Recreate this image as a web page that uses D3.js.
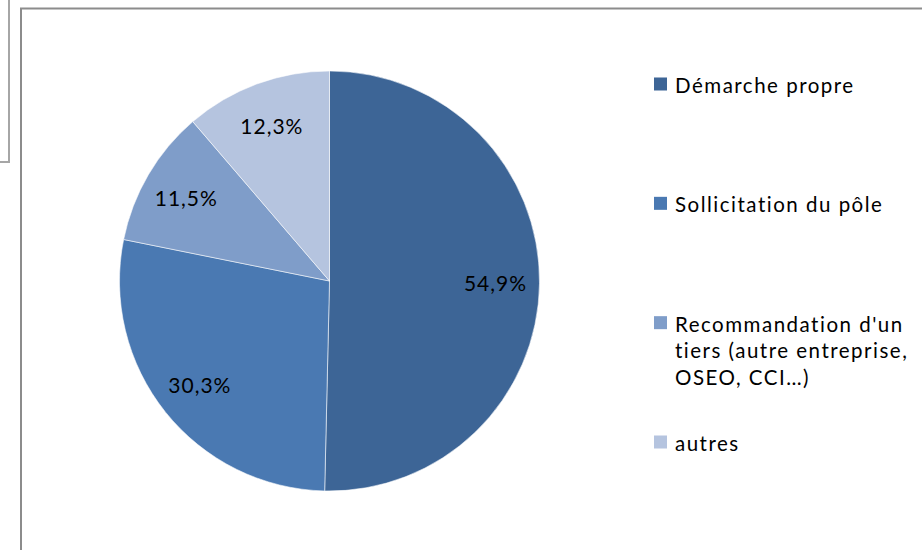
<!DOCTYPE html>
<html>
<head>
<meta charset="utf-8">
<script src="https://cdn.jsdelivr.net/npm/d3@7"></script>
<style>
  html, body { margin: 0; padding: 0; background: #fff; }
  svg { display: block; }
  text { font-family: "Lato", "Open Sans", sans-serif; fill: #000; }
</style>
</head>
<body>
<svg id="chart" width="922" height="550"></svg>
<script>
// ---- data ----
const categories = ["Démarche propre", "Sollicitation du pôle", "Recommandation d'un tiers (autre entreprise, OSEO, CCI…)", "autres"];
const values = [54.9, 30.3, 11.5, 12.3];
const valueLabels = ["54,9%", "30,3%", "11,5%", "12,3%"];
const legendLines = [["Démarche propre"], ["Sollicitation du pôle"], ["Recommandation d'un", "tiers (autre entreprise,", "OSEO, CCI…)"], ["autres"]];
const colors = ["#3d6596", "#4a79b2", "#7f9dc9", "#b5c4df"];

// ---- layout ----
const cx = 329.5, cy = 281, R = 210;
const svg = d3.select("#chart");

// background frames
svg.append("path")
  .attr("d", "M9,0 V162 H0")
  .attr("fill", "none").attr("stroke", "#a6a6a6").attr("stroke-width", 2);
svg.append("rect")
  .attr("x", 21).attr("y", 8.5).attr("width", 1000).attr("height", 1000)
  .attr("fill", "#fff").attr("stroke", "#8c8c8c").attr("stroke-width", 2);

// pie
const pie = d3.pie().sort(null).value(d => d.v);
const data = pie(values.map((v, i) => ({ v, i })));
const arc = d3.arc().innerRadius(0).outerRadius(R);
const labelArc = d3.arc().innerRadius(166).outerRadius(166);

const g = svg.append("g").attr("transform", `translate(${cx},${cy})`);
g.selectAll("path.slice")
  .data(data)
  .join("path")
  .attr("class", "slice")
  .attr("d", arc)
  .attr("fill", d => colors[d.data.i])
  .attr("stroke", "rgba(255,255,255,0.55)")
  .attr("stroke-width", 1);

g.selectAll("text.lbl")
  .data(data)
  .join("text")
  .attr("class", "lbl")
  .attr("transform", d => `translate(${labelArc.centroid(d)})`)
  .attr("text-anchor", "middle")
  .attr("dominant-baseline", "central")
  .attr("font-size", 21)
  .attr("letter-spacing", 1)
  .text(d => valueLabels[d.data.i]);

// legend
const legendY = d3.scaleLinear().domain([0, categories.length - 1]).range([85, 443]);
const lineH = 26.5;
const lg = svg.append("g");
const items = lg.selectAll("g.item")
  .data(categories.map((c, i) => ({ c, i })))
  .join("g")
  .attr("class", "item")
  .attr("transform", d => `translate(654,${legendY(d.i)})`);
items.append("rect")
  .attr("x", 0).attr("y", -7.5).attr("width", 13).attr("height", 13)
  .attr("fill", d => colors[d.i]);
items.each(function (d) {
  const t = d3.select(this).append("text")
    .attr("x", 21).attr("y", 0)
    .attr("font-size", 20.5)
    .attr("letter-spacing", 1.5);
  legendLines[d.i].forEach((ln, k) => {
    t.append("tspan")
      .attr("x", 21)
      .attr("y", k * lineH)
      .attr("dominant-baseline", "central")
      .text(ln);
  });
});
</script>
</body>
</html>
